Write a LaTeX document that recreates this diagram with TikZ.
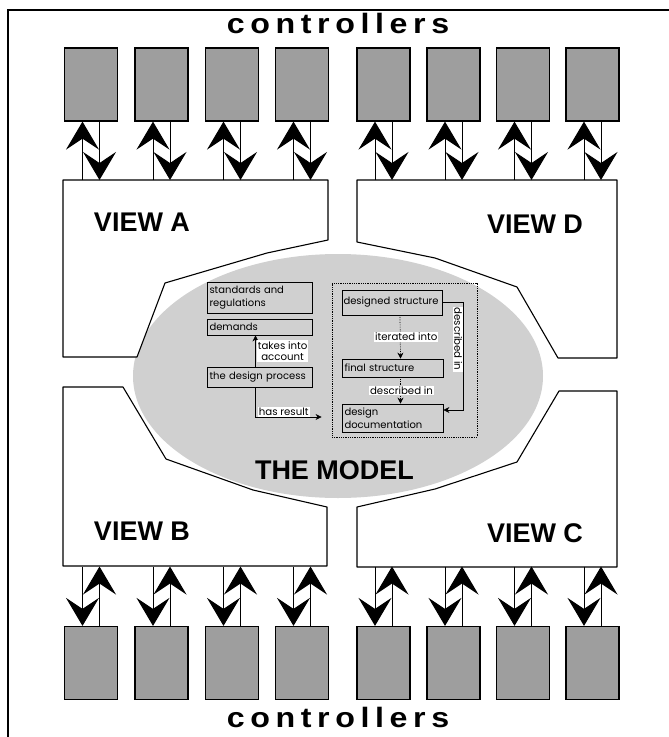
\documentclass[tikz,border=0pt]{standalone}
\usepackage{fontspec}
\usepackage{tikz}
\usetikzlibrary{arrows.meta,positioning,calc,shapes.geometric}
\newfontfamily\headfnt{Liberation Sans}
\newfontfamily\ctrlfnt[FakeStretch=1.15,LetterSpace=20]{Liberation Sans}
\newfontfamily\notefnt{Poppins}
\hyphenpenalty=10000
\definecolor{ctrlgray}{RGB}{158,158,158}
\definecolor{modelgray}{RGB}{208,208,208}
\tikzset{
  ctrl/.style={rectangle,draw=black,fill=ctrlgray,line width=1.2pt,minimum width=53pt,minimum height=73pt,inner sep=0pt},
  viewshape/.style={draw=black,fill=white,line width=1.1pt,line join=round},
  bigarr/.style={-{Stealth[length=28pt,width=33pt,inset=11pt]},line width=1pt},
  frameline/.style={line width=1.8pt,draw=black}
}

\begin{document}
\begin{tikzpicture}[
  x=1pt,y=-1pt,
  modelarea/.style={ellipse,fill=modelgray,draw=none,minimum width=410pt,minimum height=244pt,inner sep=0pt},
  viewlabel/.style={font=\headfnt\bfseries\fontsize{27}{30}\selectfont},
  ctrllabel/.style={font=\ctrlfnt\bfseries\fontsize{28}{30}\selectfont,anchor=base},
  itembox/.style={draw=black,line width=.8pt,font=\notefnt\fontsize{10}{12.5}\selectfont,align=left,inner sep=2.5pt},
  edgelabel/.style={font=\notefnt\fontsize{10.2}{11.5}\selectfont,fill=white,inner sep=1pt,align=center},
  smallarr/.style={-{Stealth[length=6pt,width=6pt]},line width=.7pt},
  dotarr/.style={-{Stealth[length=6pt,width=6pt]},line width=.7pt,densely dotted},
  resultframe/.style={draw=black,densely dotted,line width=.8pt,minimum width=145pt,minimum height=154pt}
]
\useasboundingbox (0,0) rectangle (669,737);

\draw[frameline] (8,737) -- (8,10) -- (669,10);

\node[ctrllabel] (ctrltop) at (338,33) {controllers};
\node[ctrllabel] (ctrlbot) at (338,727) {controllers};

\node[modelarea] (model) at (338,376) {};

\begin{scope}
  \draw[viewshape] (63,180) -- (328,180) -- (328,240) -- (267,253) -- (165,283)
    -- (137,357) -- (63,357) -- cycle;
  \draw[viewshape] (357,180) -- (617,180) -- (617,358) -- (558,358) -- (517,287)
    -- (435,258) -- (357,242) -- cycle;
  \draw[viewshape] (63,387) -- (123,387) -- (166,459) -- (253,490) -- (327,507)
    -- (327,566) -- (63,566) -- cycle;
  \draw[viewshape] (357,507) -- (435,489) -- (517,462) -- (559,391) -- (617,391)
    -- (617,567) -- (357,567) -- cycle;

  \node[viewlabel] (viewA) at (142,222) {VIEW A};
  \node[viewlabel] (viewD) at (535,224) {VIEW D};
  \node[viewlabel] (viewB) at (142,531) {VIEW B};
  \node[viewlabel] (viewC) at (535,533) {VIEW C};
  \node[viewlabel] (modeltitle) at (334.5,470) {THE MODEL};
\end{scope}

\begin{scope}
  \node[itembox,text width=100pt,minimum height=31pt] (stds) at (259.5,297.5) {standards and\\regulations};
  \node[itembox,text width=100pt,minimum height=16pt] (dem) at (259.5,327) {demands};
  \node[itembox,text width=100pt,minimum height=20pt] (proc) at (259.5,377) {the design process};

  \node[resultframe] (resbox) at (404.5,360) {};
  \node[itembox,text width=97pt,inner sep=1.5pt,minimum height=25pt] (dstruct) at (392,302.5) {\mbox{designed structure}};
  \node[itembox,text width=96pt,minimum height=18pt] (fstruct) at (392.5,368) {final structure};
  \node[itembox,text width=96pt,minimum height=28pt] (ddoc) at (392.5,418) {design\\documentation};

  \draw[smallarr] ([xshift=-4pt]proc.north) -- ([xshift=-4pt]dem.south)
    node[edgelabel,midway,right=1pt] {takes into\\account};
  \draw[smallarr] ([xshift=-4pt]proc.south) |- ($(resbox.west)+(-10,57)$)
    node[edgelabel,pos=.5,anchor=south west,xshift=2pt] {has result};
  \draw[dotarr] ([xshift=8pt]dstruct.south) -- ([xshift=8pt]fstruct.north)
    node[edgelabel,midway,xshift=6pt] {iterated into};
  \draw[dotarr] ([xshift=8pt]fstruct.south) -- ([xshift=8pt]ddoc.north)
    node[edgelabel,midway,xshift=1pt] {described in};
  \draw[smallarr] (dstruct.east) -- ++(21,0) |- ([yshift=8pt]ddoc.east)
    node[edgelabel,pos=.17,rotate=-90,anchor=north] {described in};
\end{scope}

\foreach \i/\x in {1/91,2/161.5,3/232,4/302,5/383.5,6/453.5,7/523,8/592.5}{
  \node[ctrl] (up\i) at (\x,84.5) {};
  \node[ctrl] (lo\i) at (\x,663) {};
  \coordinate (upin\i)  at (\x-8.5,180);
  \coordinate (upout\i) at (\x+8.5,180);
  \coordinate (loin\i)  at (\x+8.5,566.5);
  \coordinate (loout\i) at (\x-8.5,566.5);
  \draw[bigarr] (upin\i) -- (upin\i |- up\i.south);
  \draw[bigarr] (upout\i |- up\i.south) -- (upout\i);
  \draw[bigarr] (loout\i) -- (loout\i |- lo\i.north);
  \draw[bigarr] (loin\i |- lo\i.north) -- (loin\i);
}

\end{tikzpicture}
\end{document}
